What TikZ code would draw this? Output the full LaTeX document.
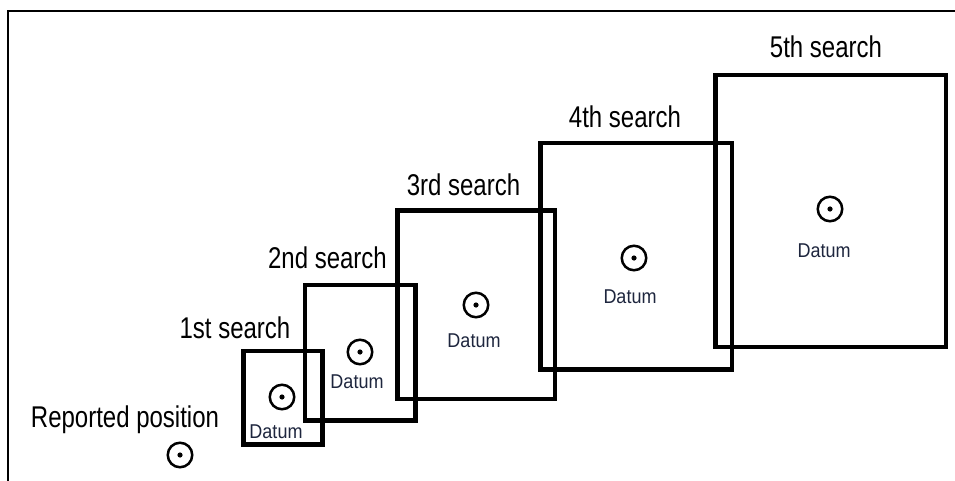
\documentclass[tikz,border=0pt]{standalone}
\usepackage{fontspec}
\setmainfont{Liberation Sans}[FakeStretch=0.8]
\newfontfamily\datumfont{Liberation Sans}[FakeStretch=0.9]
\definecolor{datumtxt}{RGB}{30,38,62}
\begin{document}
\begin{tikzpicture}[x=1pt,y=-1pt,
  frame/.style={line width=2pt,black},
  searchbox/.style={draw,line width=4.5pt,black,inner sep=0pt,fill=none},
  lbl/.style={anchor=base,inner sep=0pt,font=\fontsize{30}{32}\selectfont},
  dtxt/.style={anchor=base,inner sep=0pt,text=datumtxt,font=\datumfont\fontsize{20}{22}\selectfont},
  datum/.style={draw,circle,line width=2.5pt,minimum size=24.5pt,inner sep=0pt,
    path picture={\fill (path picture bounding box.center) circle (2.6pt);}}
]
\useasboundingbox (0,0) rectangle (955,481);
% outer frame (top and left)
\coordinate (ftr) at (955,11);
\coordinate (ftl) at (8,11);
\coordinate (fbl) at (8,481);
\draw[frame] (ftr) -- (ftl) -- (fbl);

% search boxes
\draw[searchbox] (243.5,351) rectangle (322.5,444.5);
\draw[searchbox] (305,285) rectangle (415.5,420.5);
\draw[searchbox] (397.5,210.5) rectangle (555,399);
\draw[searchbox] (540.5,143) rectangle (732,369.5);
\draw[searchbox] (715.5,75) rectangle (946,347);

% labels
\node[lbl] (l1) at (235,338) {1st search};
\node[lbl] (l2) at (327.5,268) {2nd search};
\node[lbl] (l3) at (463.5,196) {3rd search};
\node[lbl] (l4) at (625,128) {4th search};
\node[lbl] (l5) at (826,58) {5th search};
\node[lbl] (lr) at (125,427) {Reported position};

% datum symbols
\node[datum] (rp) at (180,455) {};
\node[datum] (d1) at (282,397) {};
\node[datum] (d2) at (360,352) {};
\node[datum] (d3) at (476,305) {};
\node[datum] (d4) at (634,258) {};
\node[datum] (d5) at (830,209) {};

\node[dtxt] (t1) at (276,438) {Datum};
\node[dtxt] (t2) at (357,388) {Datum};
\node[dtxt] (t3) at (474,347) {Datum};
\node[dtxt] (t4) at (630,303) {Datum};
\node[dtxt] (t5) at (824,257) {Datum};
\end{tikzpicture}
\end{document}
